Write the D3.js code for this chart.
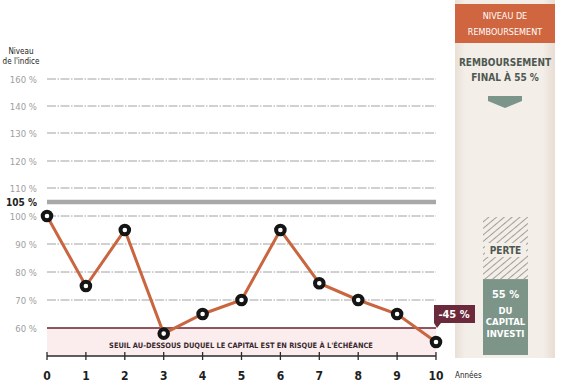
<!DOCTYPE html>
<html>
<head>
<meta charset="utf-8">
<script src="https://cdn.jsdelivr.net/npm/d3@7"></script>
<style>
  body { margin: 0; background: #fff; }
  svg { display: block; font-family: "Liberation Sans Narrow", "DejaVu Sans Condensed", "Roboto", sans-serif; }
</style>
</head>
<body>
<div id="chart"></div>
<script>
// data
var years = [0, 1, 2, 3, 4, 5, 6, 7, 8, 9, 10];
var index = [100, 75, 95, 58, 65, 70, 95, 76, 70, 65, 55];
var gridTicks = [160, 140, 130, 120, 110, 100, 90, 80, 70];
var tickLabels = ["160 %", "140 %", "130 %", "120 %", "110 %", "100 %", "90 %", "80 %", "70 %", "60 %"];
var barrier = 60;
var strike = 105;
var finalLoss = 45; // perte
var finalPay = 55;  // remboursement

var width = 564, height = 387;

var svg = d3.select("#chart").append("svg")
    .attr("width", width)
    .attr("height", height);

var x = d3.scaleLinear().domain([0, 10]).range([47, 436]);
// piecewise scale : lower part linear, the top is squeezed
var y = d3.scaleLinear()
    .domain([50, 110, 120, 130, 140, 160])
    .range([356, 188, 161, 133, 106, 79]);

var defs = svg.append("defs");
var grad = defs.append("linearGradient").attr("id", "panelGrad");
grad.append("stop").attr("offset", "0%").attr("stop-color", "#e9dfd6");
grad.append("stop").attr("offset", "10%").attr("stop-color", "#f3eee8");
grad.append("stop").attr("offset", "88%").attr("stop-color", "#f3eee8");
grad.append("stop").attr("offset", "100%").attr("stop-color", "#e8ddd3");

var hatch = defs.append("pattern").attr("id", "hatch")
    .attr("width", 5).attr("height", 5)
    .attr("patternUnits", "userSpaceOnUse")
    .attr("patternTransform", "rotate(-40)");
hatch.append("rect").attr("width", 5).attr("height", 5).attr("fill", "#f3eee8");
hatch.append("line").attr("x1", 0).attr("y1", 0).attr("x2", 5).attr("y2", 0)
    .attr("stroke", "#8b8b86").attr("stroke-width", 1.6);

// right panel
var px = 455, pw = 100;
svg.append("rect").attr("x", px).attr("y", 0).attr("width", pw).attr("height", 358)
    .attr("fill", "url(#panelGrad)");
svg.append("rect").attr("x", px).attr("y", 4).attr("width", pw).attr("height", 39)
    .attr("fill", "#cf6640");
svg.append("text").attr("x", px + pw / 2).attr("y", 19).attr("text-anchor", "middle")
    .attr("fill", "#fff").style("font-size", "9px").text("NIVEAU DE");
svg.append("text").attr("x", px + pw / 2).attr("y", 35).attr("text-anchor", "middle")
    .attr("fill", "#fff").style("font-size", "9px").text("REMBOURSEMENT");

svg.append("text").attr("x", px + pw / 2).attr("y", 66).attr("text-anchor", "middle")
    .attr("fill", "#4e5850").style("font-size", "10px").style("font-weight", "bold")
    .text("REMBOURSEMENT");
svg.append("text").attr("x", px + pw / 2).attr("y", 81).attr("text-anchor", "middle")
    .attr("fill", "#4e5850").style("font-size", "10px").style("font-weight", "bold")
    .text("FINAL À 55 %");

// arrow
svg.append("path")
    .attr("d", "M488,96 L522,96 L522,101 L505,108 L488,101 Z")
    .attr("fill", "#7c958a");

// stacked bar loss / payment
var bar = d3.scaleLinear().domain([0, 100]).range([0, 138]);
var barTop = 217, barX = 483, barW = 45;
svg.append("rect").attr("x", barX).attr("y", barTop).attr("width", barW)
    .attr("height", bar(finalLoss)).attr("fill", "url(#hatch)");
svg.append("rect").attr("x", barX + 2).attr("y", 243).attr("width", barW - 4).attr("height", 14)
    .attr("fill", "#f3eee8");
svg.append("text").attr("x", barX + barW / 2).attr("y", 254).attr("text-anchor", "middle")
    .attr("fill", "#4e5850").style("font-size", "10px").style("font-weight", "bold").text("PERTE");
svg.append("rect").attr("x", barX).attr("y", barTop + bar(finalLoss)).attr("width", barW)
    .attr("height", bar(finalPay)).attr("fill", "#7d9488");
var payLines = [finalPay + " %", "DU", "CAPITAL", "INVESTI"];
svg.selectAll(".pay").data(payLines).enter().append("text")
    .attr("x", barX + barW / 2)
    .attr("y", function (d, i) { return i == 0 ? 298 : 302 + i * 11.5; })
    .attr("text-anchor", "middle").attr("fill", "#fff")
    .style("font-size", function (d, i) { return i == 0 ? "11px" : "9.5px"; })
    .style("font-weight", "bold")
    .text(function (d) { return d; });

// barrier zone
svg.append("rect").attr("x", x(0)).attr("y", y(barrier)).attr("width", x(10) - x(0))
    .attr("height", y(50) - y(barrier)).attr("fill", "#fbeded");
svg.append("text").attr("x", 241).attr("y", y(barrier) + 20)
    .attr("text-anchor", "middle").attr("fill", "#3a2a30")
    .style("font-size", "7.4px").style("font-weight", "bold")
    .text("SEUIL AU-DESSOUS DUQUEL LE CAPITAL EST EN RISQUE À L'ÉCHÉANCE");

// grid
svg.selectAll(".grid").data(gridTicks).enter().append("line")
    .attr("x1", x(0)).attr("x2", x(10))
    .attr("y1", function (d) { return y(d); })
    .attr("y2", function (d) { return y(d); })
    .attr("stroke", "#8c8c8c").attr("stroke-width", 0.8)
    .attr("stroke-dasharray", "9,1.5,1.5,1.5");

svg.selectAll(".ylab").data(gridTicks.concat([barrier])).enter().append("text")
    .attr("x", 37).attr("y", function (d) { return y(d) + 3.5; })
    .attr("text-anchor", "end").attr("fill", "#a0a0a0")
    .style("font-size", "9.5px")
    .text(function (d, i) { return tickLabels[i]; });

// 105 % line
svg.append("line").attr("x1", x(0)).attr("x2", x(10))
    .attr("y1", y(strike)).attr("y2", y(strike))
    .attr("stroke", "#a8a8a8").attr("stroke-width", 4.5);
svg.append("text").attr("x", 37).attr("y", y(strike) + 4).attr("text-anchor", "end")
    .attr("fill", "#222").style("font-size", "10px").style("font-weight", "bold").text(strike + " %");

// barrier line
svg.append("line").attr("x1", x(0)).attr("x2", x(10))
    .attr("y1", y(barrier)).attr("y2", y(barrier))
    .attr("stroke", "#6a1f2c").attr("stroke-width", 1.3);

// y title
svg.append("text").attr("x", 21).attr("y", 54).attr("text-anchor", "middle")
    .attr("fill", "#222").style("font-size", "8px").text("Niveau");
svg.append("text").attr("x", 21).attr("y", 64).attr("text-anchor", "middle")
    .attr("fill", "#222").style("font-size", "8px").text("de l'indice");

// x axis
var xAxis = svg.append("g").attr("transform", "translate(0," + y(50) + ")");
xAxis.append("line").attr("x1", x(0)).attr("x2", x(10)).attr("stroke", "#2a2a2a").attr("stroke-width", 1.3);
xAxis.selectAll(".tk").data(years).enter().append("line")
    .attr("x1", function (d) { return x(d); }).attr("x2", function (d) { return x(d); })
    .attr("y1", -4).attr("y2", 4).attr("stroke", "#2a2a2a").attr("stroke-width", 1.3);
xAxis.selectAll(".xl").data(years).enter().append("text")
    .attr("x", function (d) { return x(d); }).attr("y", 24)
    .attr("text-anchor", "middle").attr("fill", "#1e1e1e")
    .style("font-size", "12px").style("font-weight", "bold")
    .text(function (d) { return d; });
svg.append("text").attr("x", 455).attr("y", 378).attr("fill", "#222")
    .style("font-size", "8px").text("Années");

// index line
var line = d3.line()
    .x(function (d, i) { return x(years[i]); })
    .y(function (d) { return y(d); });
svg.append("path").datum(index).attr("d", line)
    .attr("fill", "none").attr("stroke", "#c9653f").attr("stroke-width", 3);

svg.selectAll(".pt").data(index).enter().append("circle")
    .attr("cx", function (d, i) { return x(years[i]); })
    .attr("cy", function (d) { return y(d); })
    .attr("r", 4.3).attr("fill", "#fff")
    .attr("stroke", "#151515").attr("stroke-width", 4);

// callout -45 %
var last = index[index.length - 1];
var cx = x(10), cy = y(last);
svg.append("path")
    .attr("d", "M" + (cx - 2) + "," + (cy - 37) + " h41 v18 h-34 l-4,5 l-3,-5 Z")
    .attr("fill", "#6b2a3c");
svg.append("text").attr("x", cx + 18).attr("y", cy - 24).attr("text-anchor", "middle")
    .attr("fill", "#fff").style("font-size", "11px").style("font-weight", "bold")
    .text((last - 100) + " %");
</script>
</body>
</html>
